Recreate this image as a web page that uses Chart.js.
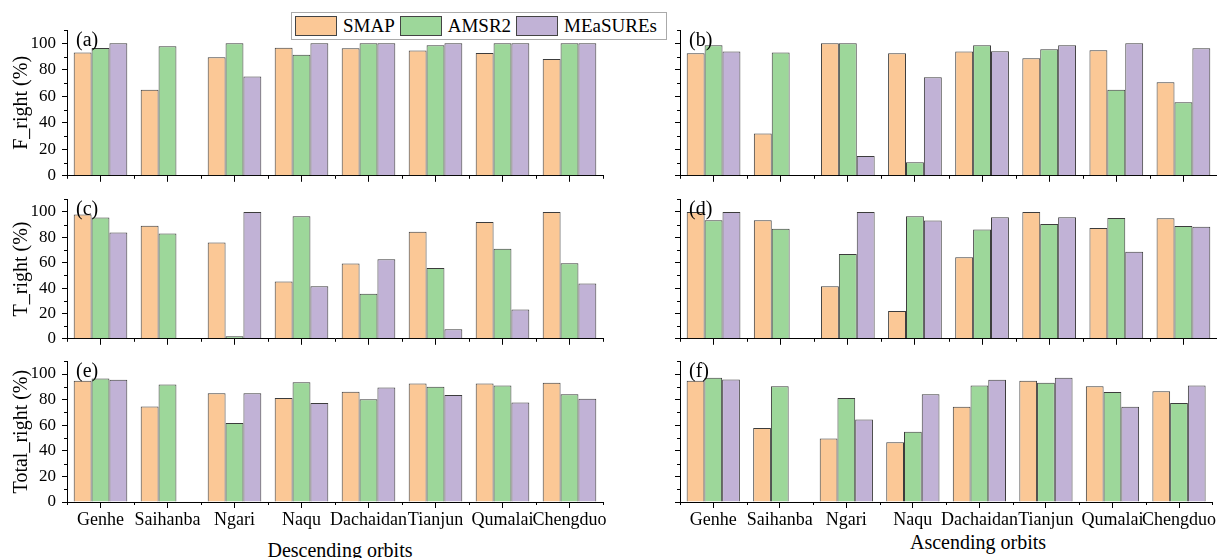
<!DOCTYPE html>
<html>
<head>
<meta charset="utf-8">
<script src="https://cdn.jsdelivr.net/npm/chart.js@4.4.1/dist/chart.umd.min.js"></script>
<style>
  body { margin: 0; background: #fff; font-family: 'Liberation Serif', 'Times New Roman', serif; }
  #wrap { position: relative; width: 1217px; height: 558px; overflow: hidden; }
  .panel { position: absolute; }
  #legend { position: absolute; left: 291px; top: 12px; width: 374px; height: 26px; border: 1px solid #aaa;
            background: #fff; display: flex; align-items: center; font-size: 19px; z-index: 5; }
  #legend span.sw { display: inline-block; width: 42px; height: 20px; border: 1px solid #444; margin-left: 3px; box-sizing: border-box; }
  #legend span.tx { margin-left: 6px; margin-right: 2px; }
  .xtitle { position: absolute; font-size: 20px; transform: translate(-50%, -50%); white-space: nowrap; }
</style>
</head>
<body>
<div id="wrap">
  <div id="legend"></div>
  <div class="xtitle" style="left:340px; top:550px;">Descending orbits</div>
  <div class="xtitle" style="left:978px; top:542px;">Ascending orbits</div>
</div>
<script>
// categories and series
const categories = ['Genhe', 'Saihanba', 'Ngari', 'Naqu', 'Dachaidan', 'Tianjun', 'Qumalai', 'Chengduo'];
const seriesNames = ['SMAP', 'AMSR2', 'MEaSUREs'];
const seriesColors = ['#FBC896', '#9DD79A', '#C1B2D6'];
const yTicks = [0, 20, 40, 60, 80, 100];
const yMinor = [10, 30, 50, 70, 90, 110];

// (a) F_right, descending
const fDescSMAP = [93, 65, 89.5, 96.7, 96.2, 94.5, 92.7, 88.2];
const fDescAMSR2 = [96.5, 97.8, 100, 91.4, 100, 98.5, 100, 100];
const fDescMEaS = [100, null, 75, 100, 100, 100, 100, 100];
// (b) F_right, ascending
const fAscSMAP = [92.4, 32, 100, 92.4, 93.7, 88.7, 94.7, 70.5];
const fAscAMSR2 = [98.5, 93, 100, 10.3, 98.5, 95.5, 65, 55.4];
const fAscMEaS = [93.7, null, 14.9, 74.3, 94, 98.5, 100, 96.2];
// (c) T_right, descending
const tDescSMAP = [98, 89, 75.9, 45.2, 59.3, 84.4, 92, 100];
const tDescAMSR2 = [95.5, 83, 2, 96.5, 35.4, 55.8, 70.9, 59.5];
const tDescMEaS = [83.7, null, 100, 41.5, 62.6, 7.5, 23.1, 43.5];
// (d) T_right, ascending
const tAscSMAP = [100, 93.5, 41.5, 21.9, 64.3, 100, 87.4, 95];
const tAscAMSR2 = [93.5, 86.7, 66.8, 96.5, 86.2, 90.5, 95.2, 88.9];
const tAscMEaS = [100, null, 100, 93.2, 95.7, 95.7, 68.6, 88.2];
// (e) Total_right, descending
const totDescSMAP = [94.7, 74.7, 85, 81.2, 86.2, 92.5, 92.5, 93.2];
const totDescAMSR2 = [96.5, 91.7, 61.7, 93.5, 80.2, 90, 91, 84.2];
const totDescMEaS = [95.5, null, 85, 77.4, 89.5, 83.5, 77.7, 80.7];
// (f) Total_right, ascending
const totAscSMAP = [94.7, 57.9, 49.6, 46.6, 74.4, 94.7, 90.5, 86.5];
const totAscAMSR2 = [97, 90.5, 81.2, 54.9, 91, 93.2, 86, 77.4];
const totAscMEaS = [95.7, null, 64.4, 84.2, 95.5, 97, 74.4, 91];

const FONT = "'Liberation Serif', 'Times New Roman', serif";

// legend
const legendEl = document.getElementById('legend');
seriesNames.forEach((name, i) => {
    legendEl.innerHTML += `<span class="sw" style="background:${seriesColors[i]}"></span><span class="tx">${name}</span>`;
});

// minor ticks + panel letter
const extras = {
    id: 'extras',
    afterDraw(chart, args, opts) {
        const { ctx, scales: { x, y } } = chart;
        ctx.save();
        ctx.strokeStyle = '#000';
        ctx.lineWidth = 1;
        ctx.beginPath();
        yMinor.forEach(v => {
            const py = Math.round(y.getPixelForValue(v)) + 0.5;
            ctx.moveTo(y.right - 3, py);
            ctx.lineTo(y.right, py);
        });
        const half = (x.getPixelForValue(1) - x.getPixelForValue(0)) / 2;
        for (let i = 0; i <= categories.length; i++) {
            const px = Math.round(x.getPixelForValue(0) - half + i * half * 2) + 0.5;
            ctx.moveTo(px, x.top);
            ctx.lineTo(px, x.top + 3);
        }
        ctx.stroke();
        ctx.fillStyle = '#000';
        ctx.font = '20px ' + FONT;
        ctx.textBaseline = 'middle';
        ctx.fillText(opts.letter, chart.chartArea.left + 9, chart.chartArea.top + 11);
        ctx.restore();
    }
};

function makePanel(p) {
    const div = document.createElement('div');
    div.className = 'panel';
    div.style.left = p.left + 'px';
    div.style.top = p.top + 'px';
    div.style.width = p.width + 'px';
    div.style.height = p.height + 'px';
    const canvas = document.createElement('canvas');
    div.appendChild(canvas);
    document.getElementById('wrap').appendChild(div);

    new Chart(canvas, {
        type: 'bar',
        data: {
            labels: categories,
            datasets: p.series.map((d, i) => ({
                label: seriesNames[i],
                data: d,
                backgroundColor: seriesColors[i],
                borderColor: '#3c3c3c',
                borderWidth: 1,
                categoryPercentage: 0.8,
                barPercentage: 1.0
            }))
        },
        options: {
            responsive: true,
            maintainAspectRatio: false,
            animation: false,
            layout: { autoPadding: false, padding: { top: p.padTop, right: p.padRight, left: 0, bottom: 0 } },
            scales: {
                x: {
                    border: { display: true, color: '#000', width: 1 },
                    grid: { offset: false, drawOnChartArea: false, drawTicks: true, tickLength: 6, color: '#000' },
                    ticks: {
                        color: '#000',
                        padding: 1,
                        maxRotation: 0,
                        autoSkip: false,
                        font: { family: FONT, size: 18 },
                        callback: (v, i) => p.xLabels ? categories[i] : ''
                    },
                    afterFit: s => { s.height = p.xHeight; }
                },
                y: {
                    min: 0,
                    max: 110,
                    border: { display: true, color: '#000', width: 1 },
                    grid: { drawOnChartArea: false, drawTicks: true, tickLength: 5, color: '#000' },
                    ticks: {
                        stepSize: 20,
                        includeBounds: false,
                        color: '#000',
                        padding: 6,
                        font: { family: FONT, size: 17 },
                        callback: v => (p.yLabels && yTicks.includes(v)) ? String(v) : ''
                    },
                    title: {
                        display: !!p.yTitle,
                        text: p.yTitle,
                        color: '#000',
                        padding: { top: 10, bottom: 0 },
                        font: { family: FONT, size: 20 }
                    },
                    afterFit: s => { s.width = p.yWidth; }
                }
            },
            plugins: {
                legend: { display: false },
                tooltip: { enabled: false },
                extras: { letter: p.letter }
            }
        },
        plugins: [extras]
    });
}

const rows = [
    { top: 0, height: 192, padTop: 30, xHeight: 16, xLabels: false },
    { top: 183, height: 172, padTop: 10, xHeight: 16, xLabels: false },
    { top: 345, height: 213, padTop: 10, xHeight: 56, xLabels: true }
];
const leftSeries = [[fDescSMAP, fDescAMSR2, fDescMEaS], [tDescSMAP, tDescAMSR2, tDescMEaS], [totDescSMAP, totDescAMSR2, totDescMEaS]];
const rightSeries = [[fAscSMAP, fAscAMSR2, fAscMEaS], [tAscSMAP, tAscAMSR2, tAscMEaS], [totAscSMAP, totAscAMSR2, totAscMEaS]];
const yTitles = ['F_right (%)', 'T_right (%)', 'Total_right (%)'];
const letters = [['(a)', '(b)'], ['(c)', '(d)'], ['(e)', '(f)']];

rows.forEach((r, k) => {
    makePanel(Object.assign({}, r, {
        left: 0, width: 610, padRight: 7, yWidth: 67,
        series: leftSeries[k], yLabels: true, yTitle: yTitles[k], letter: letters[k][0]
    }));
    makePanel(Object.assign({}, r, {
        left: 612, width: 605, padRight: 0, yWidth: 68,
        series: rightSeries[k], yLabels: false, yTitle: '', letter: letters[k][1]
    }));
});
</script>
</body>
</html>
